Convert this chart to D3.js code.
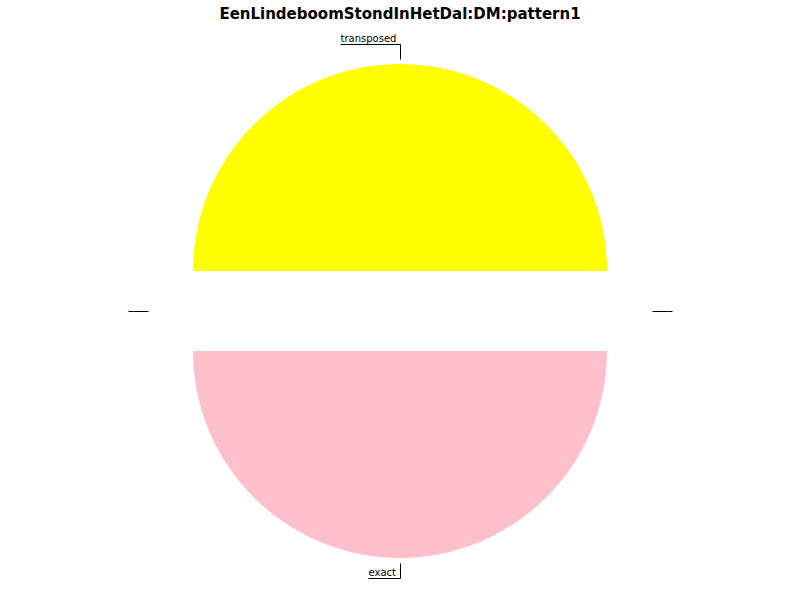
<!DOCTYPE html>
<html>
<head>
<meta charset="utf-8">
<script src="https://cdn.jsdelivr.net/npm/d3@7"></script>
<style>
  body { margin: 0; background: #fff; }
  svg { display: block; }
</style>
</head>
<body>
<svg id="chart" width="800" height="600"></svg>
<script>
const title = "EenLindeboomStondInHetDal:DM:pattern1";
const labels = ["", "transposed", "", "exact"];
const values = [0, 1, 0, 1];
const colors = ["#cccccc", "#ffff00", "#cccccc", "#ffc0cb"];

const W = 800, H = 600;
const cx = 400, cy = 311, R = 207, explode = 40;

const svg = d3.select("#chart");

svg.append("text")
  .attr("x", W / 2).attr("y", 19)
  .attr("text-anchor", "middle")
  .attr("font-family", "DejaVu Sans")
  .attr("font-weight", "bold")
  .attr("font-size", 15)
  .text(title);

const data = labels.map((l, i) => ({ label: l, value: values[i], color: colors[i] }));

const pie = d3.pie().value(d => d.value).sort(null)
  .startAngle(-Math.PI / 2).endAngle(3 * Math.PI / 2);
const arcs = pie(data);
const arc = d3.arc().innerRadius(0).outerRadius(R);

const g = svg.append("g").attr("transform", `translate(${cx},${cy})`);
const lg = svg.append("g").attr("transform", `translate(${cx + 0.5},${cy + 0.5})`);

arcs.forEach(a => {
  const mid = (a.startAngle + a.endAngle) / 2;
  const dx = Math.sin(mid) * explode, dy = -Math.cos(mid) * explode;
  if (a.value > 0) {
    g.append("path")
      .attr("d", arc(a))
      .attr("transform", `translate(${dx},${dy})`)
      .attr("fill", a.data.color);
  }
  // label with leader line
  const r1 = R + explode + 5, r2 = R + explode + 20;
  const sx = Math.sin(mid), sy = -Math.cos(mid);
  const x1 = Math.round(sx * r1), y1 = Math.round(sy * r1);
  const x2 = Math.round(sx * r2), y2 = Math.round(sy * r2);
  const left = sx < 1e-6;
  const txt = lg.append("text")
    .attr("font-family", "DejaVu Sans")
    .attr("font-size", 10)
    .attr("y", y2 - 3)
    .text(a.data.label);
  const tw = a.data.label ? txt.node().getComputedTextLength() : 0;
  const ul = Math.round(a.data.label ? tw + 4.5 : 5);
  const x3 = left ? x2 - ul : x2 + ul;
  txt.attr("x", left ? x3 : x2 + 3);
  lg.append("path")
    .attr("d", `M${x1},${y1}L${x2},${y2}L${x3},${y2}`)
    .attr("fill", "none")
    .attr("stroke", "#000")
    .attr("stroke-width", 1);
});
</script>
</body>
</html>
